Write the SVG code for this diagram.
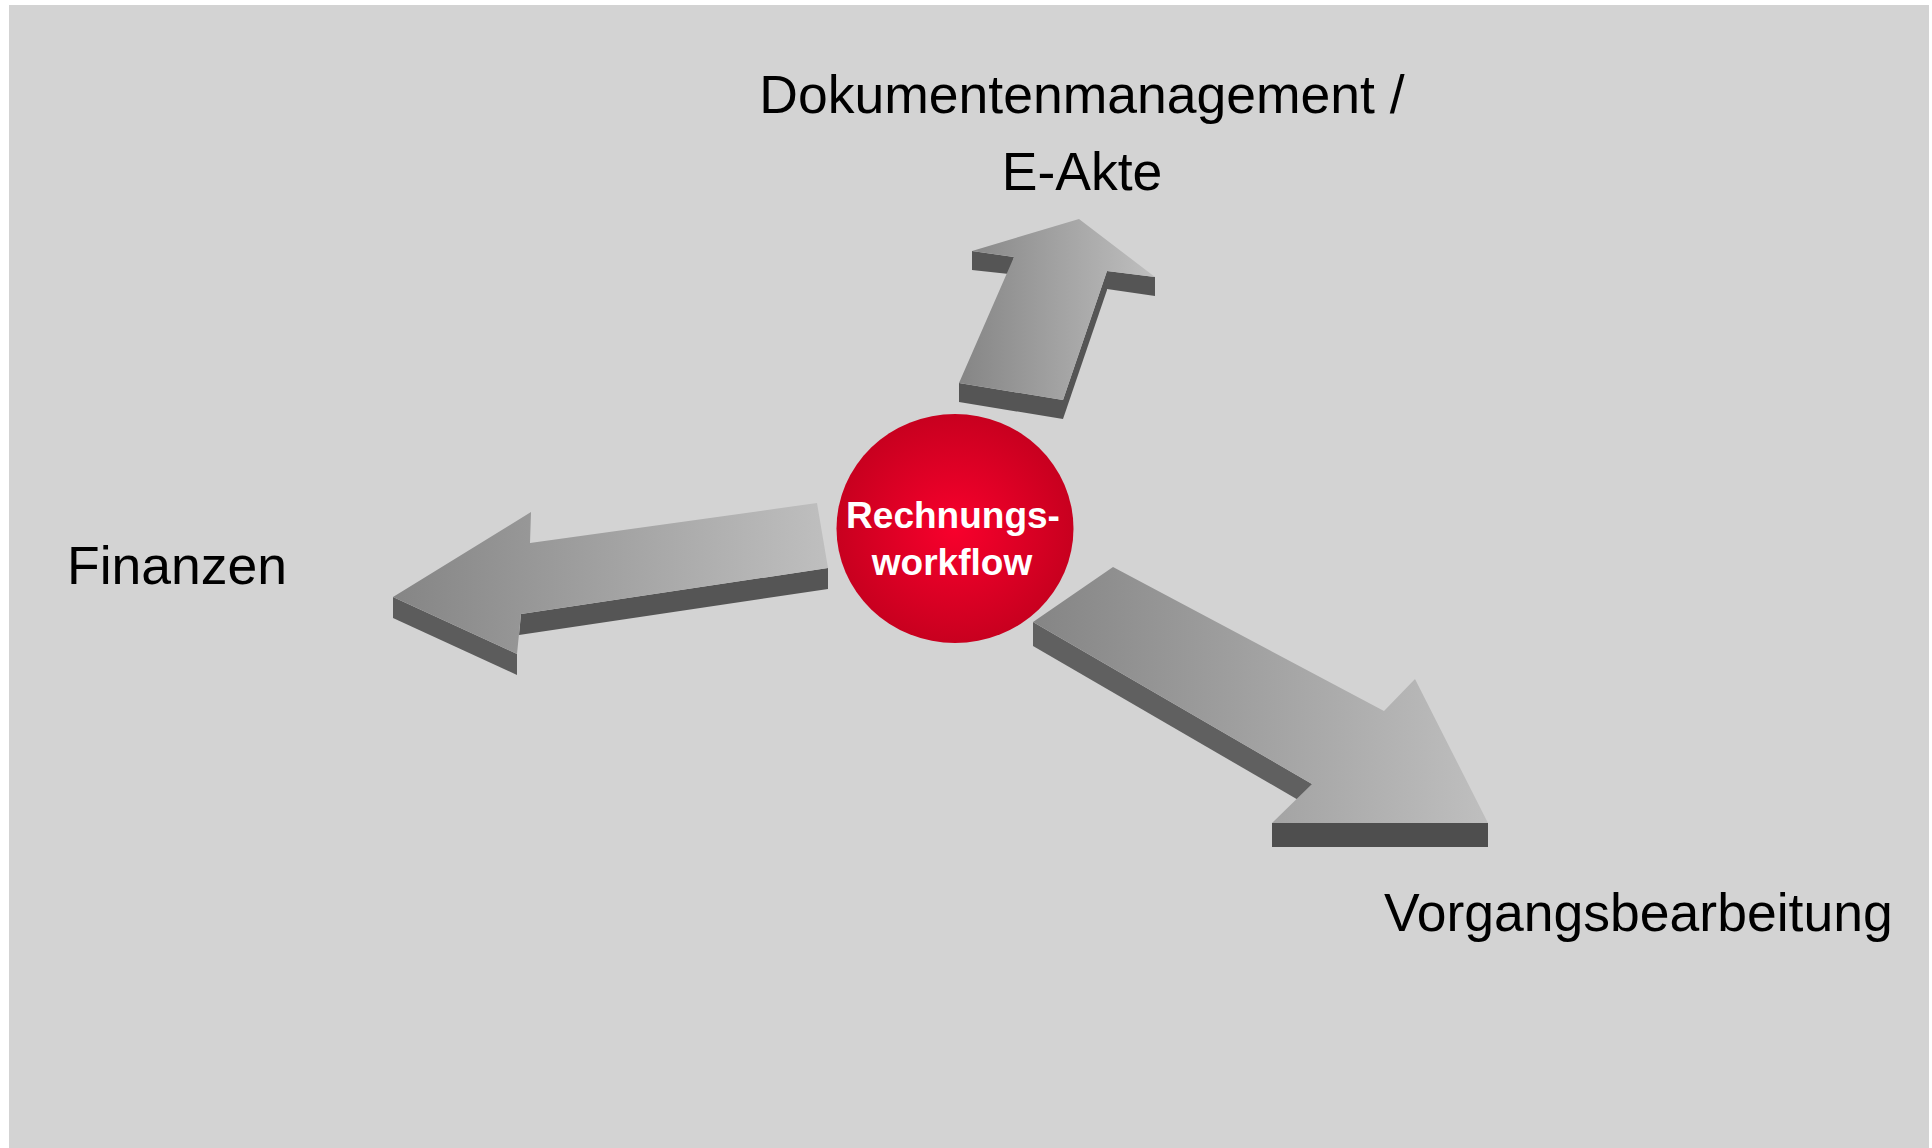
<svg xmlns="http://www.w3.org/2000/svg" width="1932" height="1148" viewBox="0 0 1932 1148">
<defs>
<linearGradient id="ag" x1="0" y1="0" x2="1" y2="0">
<stop offset="0" stop-color="#858585"/>
<stop offset="1" stop-color="#bfbfbf"/>
</linearGradient>
<radialGradient id="rg" cx="0.5" cy="0.5" r="0.5">
<stop offset="0" stop-color="#f8002c"/>
<stop offset="1" stop-color="#c8001f"/>
</radialGradient>
<style>
.lbl{font-family:"Liberation Sans",Arial,sans-serif;font-size:53.5px;fill:#000}
.ctr{font-family:"Liberation Sans",Arial,sans-serif;font-size:37px;font-weight:bold;fill:#fff;text-anchor:middle}
.top{fill:url(#ag)}
.side{fill:#555}
</style>
</defs>
<rect x="9" y="5" width="1920" height="1143" fill="#d3d3d3"/>
<g id="connectors">
<g id="arrow-up">
<polygon class="side" points="972,251 1014,257 1009,274 972,270"/>
<polygon class="side" points="1107,271 1155,277 1155,296 1107,289"/>
<polygon class="side" points="1107,271 1063,400 1063,419 1107,290"/>
<polygon class="side" points="959,383 1063,400 1063,419 959,402"/>
<polygon class="top" points="1079,219 1155,277 1107,271 1063,400 959,383 1014,257 972,251"/>
</g>
<g id="arrow-left">
<polygon fill="#5c5c5c" points="393,597 517,654 517,675 393,618"/>
<polygon class="side" points="521,614 828,568 828,589 519,635"/>
<polygon class="top" points="393,597 531,512 530,543 817,503 828,568 521,614 517,654"/>
</g>
<g id="arrow-down">
<polygon fill="#606060" points="1033,622 1312,784 1312,808 1033,646"/>
<polygon fill="#4e4e4e" points="1272,823 1488,823 1488,847 1272,847"/>
<polygon class="top" points="1113,567 1384,711 1415,679 1488,823 1272,823 1312,784 1033,622"/>
</g>
</g>
<g id="node-center">
<ellipse cx="955" cy="528.5" rx="118.5" ry="114.5" fill="url(#rg)"/>
<text class="ctr" x="953" y="528">Rechnungs-</text>
<text class="ctr" x="952" y="575">workflow</text>
</g>
<g id="node-dms">
<text class="lbl" x="1082" y="113" text-anchor="middle">Dokumentenmanagement /</text>
<text class="lbl" x="1082" y="190" text-anchor="middle">E-Akte</text>
</g>
<g id="node-finanzen">
<text class="lbl" x="67" y="584">Finanzen</text>
</g>
<g id="node-vorgang">
<text class="lbl" x="1384" y="931">Vorgangsbearbeitung</text>
</g>
</svg>
